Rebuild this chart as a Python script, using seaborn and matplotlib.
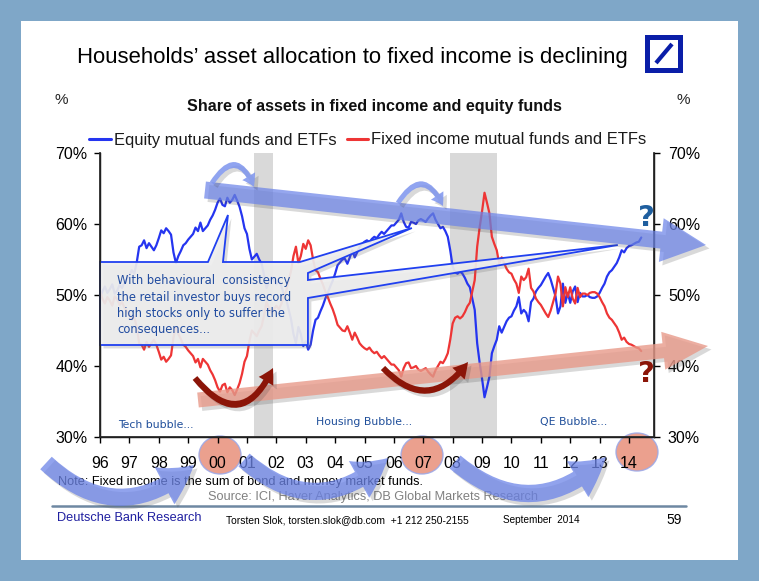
import numpy as np
import pandas as pd
import matplotlib
matplotlib.use('Agg')
import matplotlib.pyplot as plt
import seaborn as sns
from matplotlib.patches import Rectangle, Polygon, FancyArrowPatch, Ellipse
from matplotlib.lines import Line2D
from matplotlib import patheffects as pe

# ---------------- data (monthly, Jan 1996 - Jun 2014) ----------------
equity = [
    49.5, 50.5, 51.2, 50.3, 50.8, 51.5, 50.2, 50.6, 51.4, 51.0, 51.8, 52.3,   # 1996
    52.8, 53.5, 53.0, 54.6, 56.8, 57.0, 57.7, 56.6, 57.3, 56.8, 56.3, 57.0,   # 1997
    58.0, 59.1, 58.7, 59.4, 59.0, 58.5, 56.0, 54.5, 55.5, 56.2, 57.0, 57.3,   # 1998
    57.8, 58.2, 58.6, 59.5, 59.0, 60.2, 59.0, 59.4, 59.8, 60.6, 61.2, 62.0,   # 1999
    63.0, 63.6, 62.7, 62.5, 63.7, 63.0, 63.4, 64.1, 63.3, 62.4, 61.1, 59.4,   # 2000
    58.6, 56.5, 55.0, 55.4, 55.8, 55.0, 54.4, 52.8, 51.0, 51.8, 52.5, 52.0,   # 2001
    51.5, 52.0, 51.3, 50.2, 49.5, 48.0, 46.6, 44.5, 43.2, 45.5, 44.5, 42.8,   # 2002
    43.5, 42.3, 43.0, 45.0, 46.5, 46.8, 47.7, 48.5, 49.5, 50.3, 51.2, 52.0,   # 2003
    53.0, 54.2, 54.6, 55.0, 55.1, 54.4, 55.3, 56.3, 55.3, 56.0, 56.8, 57.2,   # 2004
    57.5, 57.7, 57.4, 57.9, 58.2, 58.0, 58.5, 58.9, 58.6, 59.0, 59.4, 59.8,   # 2005
    59.8, 60.2, 60.6, 61.5, 60.3, 59.6, 59.5, 60.3, 60.2, 60.0, 60.5, 60.7,   # 2006
    60.5, 60.3, 60.8, 61.2, 61.5, 60.6, 60.0, 59.4, 59.6, 59.0, 58.2, 56.3,   # 2007
    54.0, 53.2, 53.0, 53.3, 53.0, 52.4, 51.6, 51.1, 49.5, 47.9, 43.2, 40.5,   # 2008
    38.2, 35.6, 37.0, 38.5, 41.8, 42.8, 43.7, 45.6, 44.7, 45.5, 46.3, 46.8,   # 2009
    47.0, 47.8, 48.4, 49.7, 47.4, 47.9, 47.5, 46.3, 49.0, 49.5, 50.5, 51.0,   # 2010
    51.4, 52.0, 52.6, 53.1, 52.2, 51.0, 49.8, 47.4, 48.4, 51.6, 48.9, 50.3,   # 2011
    48.9, 50.5, 51.2, 49.0, 50.3, 49.8, 49.8, 50.0, 49.7, 49.6, 49.6, 49.8,   # 2012
    50.3, 51.0, 51.6, 52.6, 53.2, 53.5, 54.0, 54.5, 55.3, 56.3, 56.0, 56.6,   # 2013
    56.9, 57.0, 57.2, 57.4, 57.5, 58.1,                                       # 2014
]
fixed_income = [
    50.5, 49.5, 48.8, 49.7, 49.2, 48.5, 49.8, 49.4, 48.6, 49.0, 48.2, 47.7,   # 1996
    47.2, 46.5, 47.0, 45.4, 43.2, 43.0, 42.3, 43.4, 42.7, 43.2, 43.7, 43.0,   # 1997
    42.0, 40.9, 41.3, 40.6, 41.0, 41.5, 44.0, 45.5, 44.5, 43.8, 43.0, 42.7,   # 1998
    42.2, 41.8, 41.4, 40.5, 41.0, 39.8, 41.0, 40.6, 40.2, 39.4, 38.8, 38.0,   # 1999
    37.0, 36.4, 37.3, 37.5, 36.3, 37.0, 36.6, 35.9, 36.7, 37.6, 38.9, 40.6,   # 2000
    41.4, 43.5, 45.0, 44.6, 44.2, 45.0, 45.6, 47.2, 49.0, 48.2, 47.5, 48.0,   # 2001
    48.5, 48.0, 48.7, 49.8, 50.5, 52.0, 53.4, 55.5, 56.8, 54.5, 55.5, 57.2,   # 2002
    56.5, 57.7, 57.0, 55.0, 53.5, 53.2, 52.3, 51.5, 50.5, 49.7, 48.8, 48.0,   # 2003
    47.0, 45.8, 45.4, 45.0, 44.9, 45.6, 44.7, 43.7, 44.7, 44.0, 43.2, 42.8,   # 2004
    42.5, 42.3, 42.6, 42.1, 41.8, 42.0, 41.5, 41.1, 41.4, 41.0, 40.6, 40.2,   # 2005
    40.2, 39.8, 39.4, 38.5, 39.7, 40.4, 40.5, 39.7, 39.8, 40.0, 39.5, 39.3,   # 2006
    39.5, 39.7, 39.2, 38.8, 38.5, 39.4, 40.0, 40.6, 40.4, 41.0, 41.8, 43.7,   # 2007
    46.0, 46.8, 47.0, 46.7, 47.0, 47.6, 48.4, 48.9, 50.5, 52.1, 56.8, 59.5,   # 2008
    61.8, 64.4, 63.0, 61.5, 58.2, 57.2, 56.3, 54.4, 55.3, 54.5, 53.7, 53.2,   # 2009
    53.0, 52.2, 51.6, 50.3, 52.6, 52.1, 52.5, 53.7, 51.0, 50.5, 49.5, 49.0,   # 2010
    48.6, 48.0, 47.4, 46.9, 47.8, 49.0, 50.2, 52.6, 51.6, 48.4, 51.1, 49.7,   # 2011
    51.1, 49.5, 48.8, 51.0, 49.7, 50.2, 50.2, 50.0, 50.3, 50.4, 50.4, 50.2,   # 2012
    49.7, 49.0, 48.4, 47.4, 46.8, 46.5, 46.0, 45.5, 44.7, 43.7, 44.0, 43.4,   # 2013
    43.1, 43.0, 42.8, 42.6, 42.5, 42.1,                                       # 2014
]
start_month = '1996-01-01'
series_names = ['Equity mutual funds and ETFs', 'Fixed income mutual funds and ETFs']
year_ticks = list(range(1996, 2015))
year_labels = ['96', '97', '98', '99', '00', '01', '02', '03', '04', '05', '06',
               '07', '08', '09', '10', '11', '12', '13', '14']
pct_ticks = [30, 40, 50, 60, 70]
recessions = [(2001.25, 2001.9), (2007.92, 2009.5)]
bubbles = ['Tech bubble...', 'Housing Bubble...', 'QE Bubble...']
callout_lines = ['With behavioural  consistency', 'the retail investor buys record',
                 'high stocks only to suffer the', 'consequences...']

# ---------------- figure ----------------
W, H = 759, 581
sns.set_theme(style='white')
plt.rcParams['font.family'] = ['Liberation Sans', 'DejaVu Sans']

fig = plt.figure(figsize=(W / 100, H / 100), dpi=100, facecolor='#7FA7C8')


def F(x, y):
    return (x / W, 1 - y / H)


def FR(x0, y0, x1, y1):
    return dict(xy=(x0 / W, 1 - y1 / H), width=(x1 - x0) / W, height=(y1 - y0) / H)


fig.add_artist(Rectangle(**FR(21, 21, 738, 560), transform=fig.transFigure,
                         facecolor='white', edgecolor='none', zorder=-2))

ax = fig.add_axes([100 / W, 1 - 437 / H, 554 / W, 284 / H])
ax.set_facecolor('none')

n = len(equity)
dates = pd.date_range(start_month, periods=n, freq='MS')
t = (dates.year + (dates.month - 1) / 12.0).to_numpy()
df = pd.DataFrame({
    't': np.concatenate([t, t]),
    'value': equity + fixed_income,
    'series': [series_names[0]] * n + [series_names[1]] * n,
})
blue, red = '#2535F0', '#EE3535'
sns.lineplot(data=df, x='t', y='value', hue='series', palette=[blue, red],
             linewidth=1.6, ax=ax, legend=False, zorder=2)

for a, b in recessions:
    ax.axvspan(a, b, color='#D9D9D9', lw=0, zorder=0.5)

ax.set_xlim(1996, 2014.85)
ax.set_ylim(30, 70)
ax.set_xticks(year_ticks)
ax.set_xticklabels(year_labels)
ax.set_yticks(pct_ticks)
ax.set_yticklabels([f'{v}%' for v in pct_ticks])
ax.set_xlabel('')
ax.set_ylabel('')
ax.tick_params(axis='x', direction='out', length=4, width=1, pad=9.5, labelsize=11.5,
               bottom=True, colors='black')
ax.tick_params(axis='y', direction='out', length=4, width=1, pad=5, labelsize=11.5,
               left=True, colors='black')
ax.spines['top'].set_visible(False)
for s in ['left', 'bottom', 'right']:
    ax.spines[s].set_color('black')
    ax.spines[s].set_linewidth(1.0)

ax2 = ax.twinx()
ax2.set_ylim(30, 70)
ax2.set_yticks(pct_ticks)
ax2.set_yticklabels([f'{v}%' for v in pct_ticks])
ax2.tick_params(axis='y', direction='out', length=4, width=1, pad=6, labelsize=11.5,
                right=True, colors='black')
ax2.spines['top'].set_visible(False)
ax2.grid(False)
ax.grid(False)

# ---------------- callout ----------------
def D(x, y):
    return (1996 + (x - 100) / 29.4, 30 + (437 - y) / 7.1)


callout_px = [(100, 262), (208, 262), (228, 215), (223, 262), (300, 262), (412, 228),
              (308, 273), (308, 280), (618, 245), (308, 298), (308, 345), (100, 345)]
poly = Polygon([D(*p) for p in callout_px], closed=True, transform=ax.transData,
               facecolor='#EDEDED', alpha=0.92, edgecolor='none', zorder=3, clip_on=False,
               path_effects=[pe.SimplePatchShadow(offset=(2.5, -2.5), shadow_rgbFace='#777777', alpha=0.25),
                             pe.Normal()])
ax.add_patch(poly)
ax.add_patch(Polygon([D(*p) for p in callout_px], closed=True, transform=ax.transData,
                     facecolor='none', edgecolor='#2040F0', lw=1.3, zorder=3.1, clip_on=False))
for i, line in enumerate(callout_lines):
    ax.text(*D(117, 281 + 16.2 * i), line, fontsize=8.3, color='#1F4A9F',
            family='DejaVu Sans', va='center', ha='left', zorder=4)

for label, (x, y) in zip(bubbles, [(118, 425), (316, 422), (540, 422)]):
    ax.text(*D(x, y), label, fontsize=7.8, color='#1F4E9A', family='DejaVu Sans',
            va='center', ha='left', zorder=4)

# ---------------- decorations ----------------
def arrow(p0, p1, rad, tail, hw, hl, color, alpha, z=5, shadow=True):
    style = f"simple,head_length={hl * 0.72},head_width={hw * 0.72},tail_width={tail * 0.72}"
    effects = []
    if shadow:
        effects = [pe.SimplePatchShadow(offset=(2.5, -2.5), shadow_rgbFace='#444444', alpha=0.2), pe.Normal()]
    a = FancyArrowPatch(F(*p0), F(*p1), transform=fig.transFigure,
                        connectionstyle=f"arc3,rad={rad}", arrowstyle=style,
                        mutation_scale=1, facecolor=color, edgecolor='none', alpha=alpha,
                        shrinkA=0, shrinkB=0, zorder=z, path_effects=effects)
    fig.add_artist(a)


periwinkle = '#6C84E8'
# big straight arrows
arrow((205, 190), (706, 245), 0.0, 17, 44, 45, periwinkle, 0.72)
arrow((198, 400), (708, 346), 0.0, 15, 38, 45, '#E89A8A', 0.8)
# small curved arrows at peaks
arrow((212, 183), (254, 187), -0.95, 5, 15, 12, '#7D94EE', 0.85)
arrow((398, 203), (443, 206), -0.9, 5, 15, 12, '#7D94EE', 0.85)
# dark red curved arrows at troughs
arrow((195, 378), (273, 368), 0.8, 6, 17, 15, '#8B1508', 1.0)
arrow((383, 368), (468, 362), 0.6, 6, 17, 15, '#8B1508', 1.0)

# circles around 00, 07, 14
for cx, cy in [(220, 455), (422, 455), (637, 452)]:
    fig.add_artist(Ellipse(F(cx, cy), 42 / W, 38 / H, transform=fig.transFigure,
                           facecolor='#E8907A', edgecolor='#9AA8E8', lw=1, alpha=0.85, zorder=-0.5))

# bottom big curved arrows
arrow((46, 463), (194, 465), 0.45, 17, 42, 36, periwinkle, 0.75)
arrow((244, 460), (388, 458), 0.45, 17, 42, 36, periwinkle, 0.75)
arrow((455, 462), (606, 457), 0.45, 17, 42, 36, periwinkle, 0.75)

# question marks
fig.text(*F(646, 218), '?', fontsize=21, color='#1F5F9F', family='DejaVu Sans',
         fontweight='bold', ha='center', va='center', zorder=6)
fig.text(*F(646, 374), '?', fontsize=21, color='#8B1508', family='DejaVu Sans',
         fontweight='bold', ha='center', va='center', zorder=6)

# ---------------- titles / legend ----------------
fig.text(*F(352, 58), 'Households\u2019 asset allocation to fixed income is declining',
         fontsize=15.9, color='black', ha='center', va='center')
fig.text(*F(374, 106), 'Share of assets in fixed income and equity funds', fontsize=11.6,
         fontweight='bold', color='#111111', ha='center', va='center')
fig.text(*F(61, 100), '%', fontsize=11, ha='center', va='center')
fig.text(*F(683, 100), '%', fontsize=11, ha='center', va='center')

handles = [Line2D([], [], color=blue, lw=2.2), Line2D([], [], color=red, lw=2.2)]
fig.legend(handles, series_names, loc='center', bbox_to_anchor=F(368, 140), ncol=2,
           frameon=False, fontsize=11.9, handlelength=1.3, handletextpad=0.2,
           columnspacing=0.6, borderpad=0, labelcolor='#1A1A1A')

# DB logo
fig.add_artist(Rectangle(**FR(645, 35, 683, 73), transform=fig.transFigure,
                         facecolor='#0A1EA8', edgecolor='none', zorder=2))
fig.add_artist(Rectangle(**FR(650, 40, 678, 68), transform=fig.transFigure,
                         facecolor='white', edgecolor='none', zorder=2.1))
fig.add_artist(Line2D([656 / W, 672 / W], [1 - 63 / H, 1 - 44 / H], transform=fig.transFigure,
                      color='#0A1EA8', lw=3.0, solid_capstyle='butt', zorder=2.2))

# notes & footer
fig.text(*F(58, 482), 'Note: Fixed income is the sum of bond and money market funds.',
         fontsize=9.2, color='black', ha='left', va='center')
fig.text(*F(373, 497), 'Source: ICI, Haver Analytics, DB Global Markets Research',
         fontsize=9.2, color='#808080', ha='center', va='center')
fig.add_artist(Line2D([52 / W, 686 / W], [1 - 506 / H, 1 - 506 / H], transform=fig.transFigure,
                      color='#6E88A2', lw=1.8))
fig.text(*F(57, 518), 'Deutsche Bank Research', fontsize=9.2, color='#1F1FA0',
         ha='left', va='center')
fig.text(*F(226, 520), 'Torsten Slok, torsten.slok@db.com  +1 212 250-2155', fontsize=7.4,
         color='black', ha='left', va='center')
fig.text(*F(503, 520), 'September  2014', fontsize=7.2, color='black', ha='left', va='center')
fig.text(*F(682, 520), '59', fontsize=10, color='black', ha='right', va='center')

fig.savefig('out.png', dpi=100, facecolor=fig.get_facecolor())
